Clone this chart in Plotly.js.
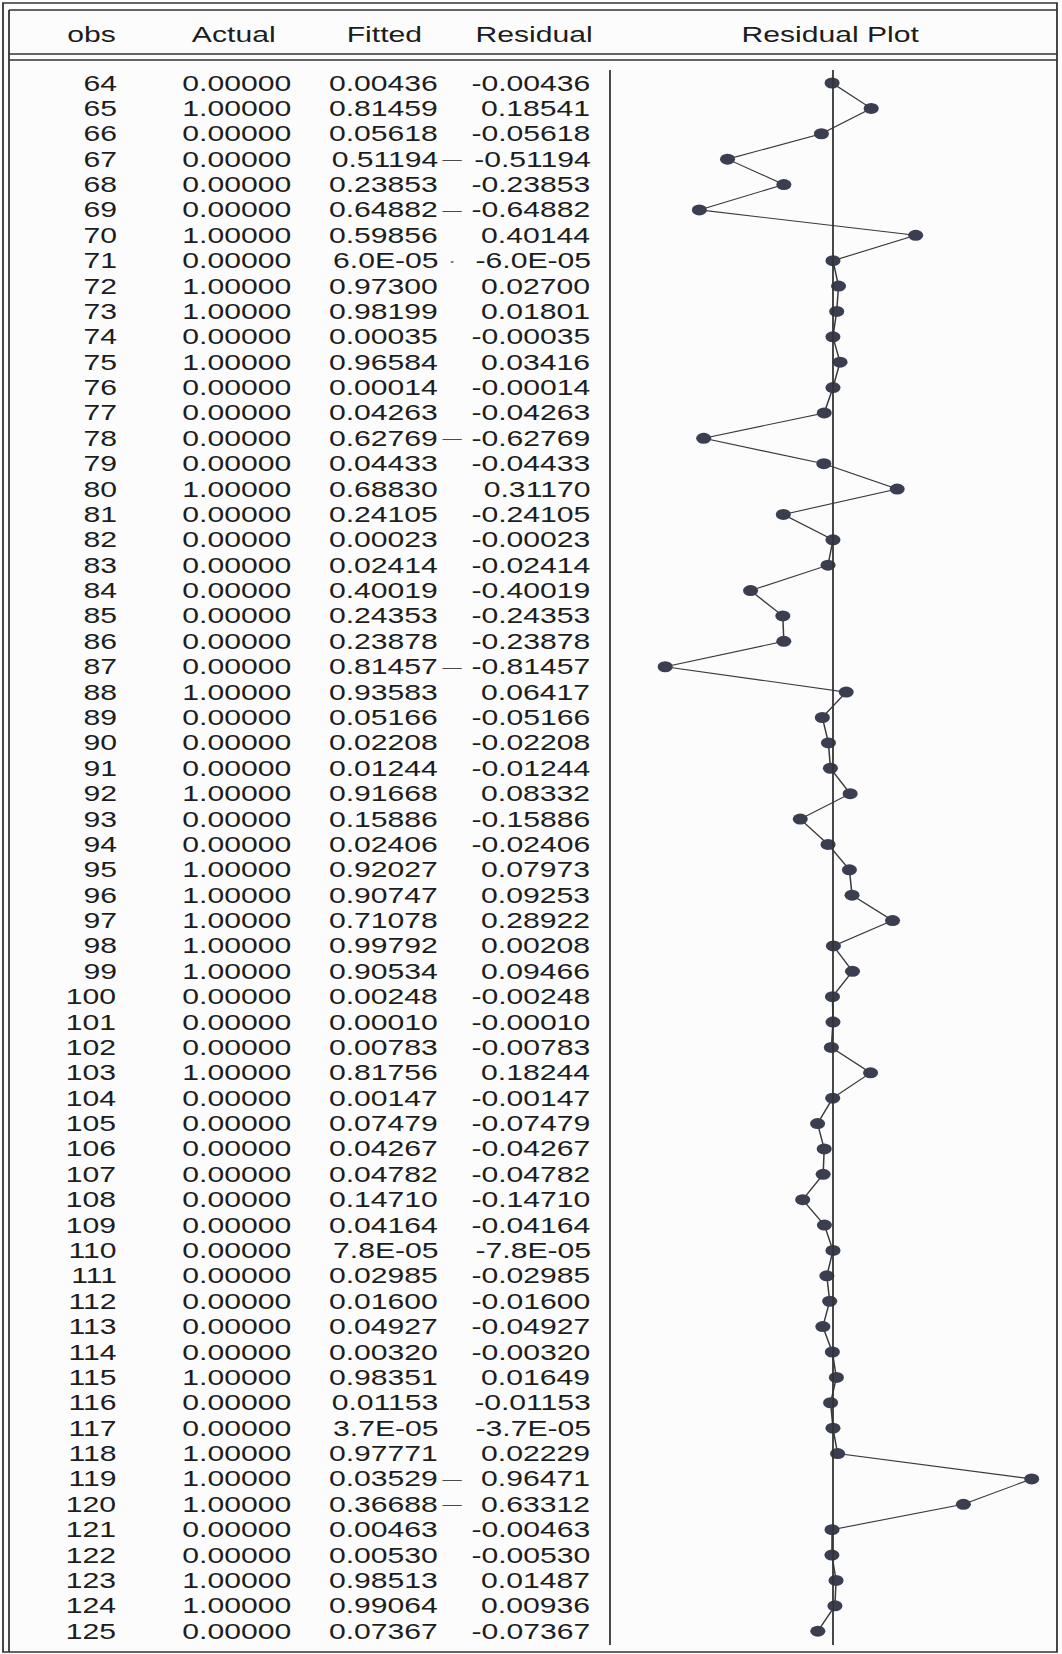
<!DOCTYPE html>
<html>
<head>
<meta charset="utf-8">
<script src="https://cdn.plot.ly/plotly-3.0.1.min.js"></script>
<style>
  html, body { margin: 0; padding: 0; background: #fcfcfc; overflow: hidden; }
  /* The printed sheet is wider than tall per glyph; the drawing is laid out
     at a narrower width and stretched horizontally to the page width. */
  #chart { width: 775px; height: 1654px; transform: scaleX(1.3703); transform-origin: 0 0; }
</style>
</head>
<body>
<div id="chart"></div>
<script>
// Observation numbers
const obs = [];
for (let k = 64; k <= 125; k++) obs.push(k);

// Actual values of the dependent variable
const actual = [
  0, 1, 0, 0, 0, 0, 1, 0, 1, 1,
  0, 1, 0, 0, 0, 0, 1, 0, 0, 0,
  0, 0, 0, 0, 1, 0, 0, 0, 1, 0,
  0, 1, 1, 1, 1, 1, 0, 0, 0, 1,
  0, 0, 0, 0, 0, 0, 0, 0, 0, 0,
  0, 1, 0, 0, 1, 1, 1, 0, 0, 1,
  1, 0
];

// Fitted probabilities
const fitted = [
  0.00436, 0.81459, 0.05618, 0.51194, 0.23853, 0.64882, 0.59856, 6.0e-05, 0.97300, 0.98199,
  0.00035, 0.96584, 0.00014, 0.04263, 0.62769, 0.04433, 0.68830, 0.24105, 0.00023, 0.02414,
  0.40019, 0.24353, 0.23878, 0.81457, 0.93583, 0.05166, 0.02208, 0.01244, 0.91668, 0.15886,
  0.02406, 0.92027, 0.90747, 0.71078, 0.99792, 0.90534, 0.00248, 0.00010, 0.00783, 0.81756,
  0.00147, 0.07479, 0.04267, 0.04782, 0.14710, 0.04164, 7.8e-05, 0.02985, 0.01600, 0.04927,
  0.00320, 0.98351, 0.01153, 3.7e-05, 0.97771, 0.03529, 0.36688, 0.00463, 0.00530, 0.98513,
  0.99064, 0.07367
];

// Residuals (actual - fitted)
const residual = [
  -0.00436, 0.18541, -0.05618, -0.51194, -0.23853, -0.64882, 0.40144, -6.0e-05, 0.02700, 0.01801,
  -0.00035, 0.03416, -0.00014, -0.04263, -0.62769, -0.04433, 0.31170, -0.24105, -0.00023, -0.02414,
  -0.40019, -0.24353, -0.23878, -0.81457, 0.06417, -0.05166, -0.02208, -0.01244, 0.08332, -0.15886,
  -0.02406, 0.07973, 0.09253, 0.28922, 0.00208, 0.09466, -0.00248, -0.00010, -0.00783, 0.18244,
  -0.00147, -0.07479, -0.04267, -0.04782, -0.14710, -0.04164, -7.8e-05, -0.02985, -0.01600, -0.04927,
  -0.00320, 0.01649, -0.01153, -3.7e-05, 0.02229, 0.96471, 0.63312, -0.00463, -0.00530, 0.01487,
  0.00936, -0.07367
];

// Column headings
const headers = ["obs", "Actual", "Fitted", "Residual", "Residual Plot"];

// Hand-made pen ticks beside some fitted values
const penDashRows = [67, 69, 78, 87, 119, 120];
const penDotRows = [71];

// ---- page geometry (pixels on the 1062 x 1654 sheet) ----
const W = 1062, H = 1654;
const px = v => v / W;            // horizontal pixel -> paper fraction
const py = v => 1 - v / H;        // vertical pixel -> paper fraction

const rowTop = 83, rowStep = 25.38;     // centre of first row, row pitch
const zeroPx = 833, unitPx = 206;       // residual-plot origin and scale
const colRight = [119, 295, 441, 593];  // right edges of the numeric columns
const headCenter = [91, 234, 385, 535, 830];

const fnt = { family: "Liberation Sans, Arial, sans-serif", size: 22, color: "#1d1d1d" };
const ink = "#333333";

// EViews style number formatting
function fmt(v) {
  if (v !== 0 && Math.abs(v) < 1e-4) {
    const e = Math.floor(Math.log10(Math.abs(v)));
    const m = v / Math.pow(10, e);
    const ee = Math.abs(e) < 10 ? "0" + Math.abs(e) : String(Math.abs(e));
    return m.toFixed(1) + "E" + (e < 0 ? "-" : "+") + ee;
  }
  return v.toFixed(5);
}

const annotations = [];
headers.forEach((h, i) => {
  annotations.push({
    text: h, xref: "paper", yref: "paper", x: px(headCenter[i]), y: py(35),
    xanchor: "center", yanchor: "middle", showarrow: false, font: fnt
  });
});

const columns = [obs.map(String), actual.map(fmt), fitted.map(fmt), residual.map(fmt)];
columns.forEach((col, c) => {
  col.forEach((t, r) => {
    annotations.push({
      text: t, xref: "paper", yref: "y", x: px(colRight[c]), y: obs[r],
      xanchor: "right", yanchor: "middle", showarrow: false, font: fnt
    });
  });
});

penDashRows.forEach(o => {
  annotations.push({
    text: "\u2014", xref: "paper", yref: "y", x: px(colRight[2] - 1), y: o,
    xanchor: "left", yanchor: "middle", showarrow: false,
    font: { family: fnt.family, size: 14, color: "#4a4a4a" }
  });
});
penDotRows.forEach(o => {
  annotations.push({
    text: "\u00b7", xref: "paper", yref: "y", x: px(colRight[2] + 4), y: o,
    xanchor: "left", yanchor: "middle", showarrow: false,
    font: { family: fnt.family, size: 18, color: "#777777" }
  });
});

const line = (x0, y0, x1, y1, w) => ({
  type: "line", xref: "paper", yref: "paper",
  x0: px(x0), y0: py(y0), x1: px(x1), y1: py(y1),
  line: { color: ink, width: w || 1.3 }
});

const shapes = [
  // double frame: outer box plus inner top / left rules
  { type: "rect", xref: "paper", yref: "paper", x0: px(3), y0: py(3), x1: px(1057), y1: py(1652),
    line: { color: ink, width: 1.3 } },
  line(9, 10, 1057, 10),
  line(9, 10, 9, 1652),
  // double rule under the headings
  line(9, 54, 1057, 54),
  line(9, 60, 1057, 60),
  // separator in front of the residual plot
  line(610, 70, 610, 1645),
  // zero reference of the residual plot
  { type: "line", xref: "x", yref: "paper", x0: 0, x1: 0, y0: py(70), y1: py(1645),
    line: { color: ink, width: 1.3 } }
];

const trace = {
  type: "scatter", mode: "lines+markers",
  x: residual, y: obs,
  line: { color: "#3a3a3a", width: 1.1 },
  marker: { size: 11, color: "#3b3e50", line: { width: 0 } },
  hoverinfo: "skip", cliponaxis: false
};

const layout = {
  width: 775, height: H,
  margin: { l: 0, r: 0, t: 0, b: 0 },
  paper_bgcolor: "#fcfcfc", plot_bgcolor: "rgba(0,0,0,0)",
  showlegend: false,
  xaxis: {
    range: [-zeroPx / unitPx, (W - zeroPx) / unitPx],
    visible: false, showgrid: false, zeroline: false, fixedrange: true
  },
  yaxis: {
    range: [64 + (H - rowTop) / rowStep, 64 - rowTop / rowStep],
    visible: false, showgrid: false, zeroline: false, fixedrange: true
  },
  annotations: annotations,
  shapes: shapes
};

Plotly.newPlot("chart", [trace], layout, { staticPlot: true, displayModeBar: false });
</script>
</body>
</html>
